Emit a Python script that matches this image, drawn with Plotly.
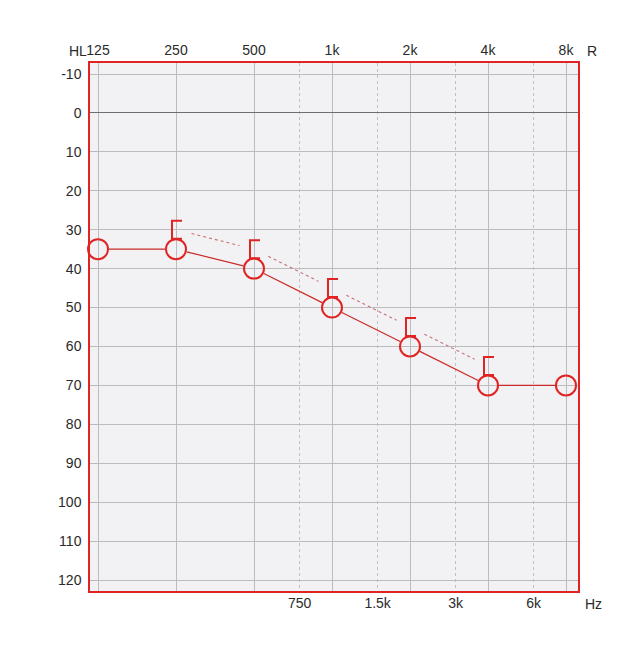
import numpy as np
import plotly.graph_objects as go

# ---- data ----
octave_freqs = [125, 250, 500, 1000, 2000, 4000, 8000]
octave_labels = ["125", "250", "500", "1k", "2k", "4k", "8k"]
mid_freqs = [750, 1500, 3000, 6000]
mid_labels = ["750", "1.5k", "3k", "6k"]
db_ticks = list(range(-10, 121, 10))

air_freqs = [125, 250, 500, 1000, 2000, 4000, 8000]
air_db = [35, 35, 40, 50, 60, 70, 70]
bone_freqs = [250, 500, 1000, 2000, 4000]
bone_db = [30, 35, 45, 55, 65]

# ---- layout geometry (page has an ~8px body margin) ----
W, H = 621, 629
ML, MT = 82, 55
PW, PH = 488, 528
MR, MB = W - ML - PW, H - MT - PH
XR = [np.log10(125) - 8 / 78 * np.log10(2), np.log10(8000) + 12 / 78 * np.log10(2)]
YR = [120 + 11 / 3.8923, -10 - 11 / 3.8923]  # reversed

RED = "#e02424"
LINE_RED = "#cc2a2a"
DOT_RED = "#c87070"


def to_px(f, d):
    px = (np.log10(f) - XR[0]) / (XR[1] - XR[0]) * PW
    py = (d - YR[1]) / (YR[0] - YR[1]) * PH
    return px, py


def to_data(px, py):
    f = 10 ** (XR[0] + px / PW * (XR[1] - XR[0]))
    d = YR[1] + py / PH * (YR[0] - YR[1])
    return f, d


def trimmed(freqs, dbs, t0, t1):
    xs, ys = [], []
    for i in range(len(freqs) - 1):
        x0, y0 = to_px(freqs[i], dbs[i])
        x1, y1 = to_px(freqs[i + 1], dbs[i + 1])
        L = np.hypot(x1 - x0, y1 - y0)
        ux, uy = (x1 - x0) / L, (y1 - y0) / L
        a = to_data(x0 + ux * t0, y0 + uy * t0)
        b = to_data(x1 - ux * t1, y1 - uy * t1)
        xs += [a[0], b[0], None]
        ys += [a[1], b[1], None]
    return xs, ys


fig = go.Figure()

# air conduction connecting line (stops at circle edges)
ax, ay = trimmed(air_freqs, air_db, 11, 11)
fig.add_trace(go.Scatter(x=ax, y=ay, mode="lines", line=dict(color=LINE_RED, width=1.2),
                         hoverinfo="skip", showlegend=False))

# bone conduction dotted line
bx, by = trimmed(bone_freqs, bone_db, 16, 15)
fig.add_trace(go.Scatter(x=bx, y=by, mode="lines", line=dict(color=DOT_RED, width=1.1, dash="dot"),
                         hoverinfo="skip", showlegend=False))

# bone conduction bracket symbols "["
sx, sy = [], []
for f, d in zip(bone_freqs, bone_db):
    px, py = to_px(f, d)
    pts = [(px + 6, py - 9), (px - 4, py - 9), (px - 4, py + 9), (px + 6, py + 9)]
    for p in pts:
        q = to_data(*p)
        sx.append(q[0]); sy.append(q[1])
    sx.append(None); sy.append(None)
fig.add_trace(go.Scatter(x=sx, y=sy, mode="lines", line=dict(color=RED, width=2),
                         hoverinfo="skip", showlegend=False, cliponaxis=False))

# air conduction circles
fig.add_trace(go.Scatter(x=air_freqs, y=air_db, mode="markers",
                         marker=dict(symbol="circle-open", size=20, color=RED, line=dict(width=2, color=RED)),
                         showlegend=False, cliponaxis=False))

# dummy trace to activate xaxis2
fig.add_trace(go.Scatter(x=[mid_freqs[0]], y=[0], xaxis="x2", mode="markers",
                         marker=dict(opacity=0), hoverinfo="skip", showlegend=False))

font = dict(family="Liberation Sans, Arial, sans-serif", size=14, color="#2a2a2a")

fig.update_layout(
    width=W, height=H,
    margin=dict(l=ML, r=MR, t=MT, b=MB),
    paper_bgcolor="white",
    plot_bgcolor="#f2f2f4",
    font=font,
    xaxis=dict(type="log", range=XR, side="top", tickvals=octave_freqs, ticktext=octave_labels,
               showgrid=True, gridcolor="#bcbcbc", gridwidth=1, zeroline=False,
               showline=True, linecolor=RED, linewidth=1.5, mirror=True, ticks="",
               ticklabelstandoff=1, fixedrange=True),
    xaxis2=dict(type="log", range=XR, side="bottom", overlaying="x", anchor="y",
                tickvals=mid_freqs, ticktext=mid_labels, showgrid=True, gridcolor="#c0c0c0",
                griddash="dot", gridwidth=1, zeroline=False, showline=False, ticks="",
                ticklabelstandoff=2),
    yaxis=dict(range=YR, tickvals=db_ticks, ticktext=[str(v) for v in db_ticks],
               showgrid=True, gridcolor="#bcbcbc", gridwidth=1,
               zeroline=True, zerolinecolor="#6e6e6e", zerolinewidth=1,
               showline=True, linecolor=RED, linewidth=1.5, mirror=True, ticks="",
               ticklabelstandoff=4),
    annotations=[
        dict(text="HL", xref="paper", yref="paper", x=0, y=1, xshift=-12, yshift=2,
             xanchor="center", yanchor="bottom", showarrow=False, font=font),
        dict(text="R", xref="paper", yref="paper", x=1, y=1, xshift=7, yshift=2,
             xanchor="left", yanchor="bottom", showarrow=False, font=font),
        dict(text="Hz", xref="paper", yref="paper", x=1, y=0, xshift=5, yshift=-3,
             xanchor="left", yanchor="top", showarrow=False, font=font),
    ],
)

fig.write_html("out.html")
